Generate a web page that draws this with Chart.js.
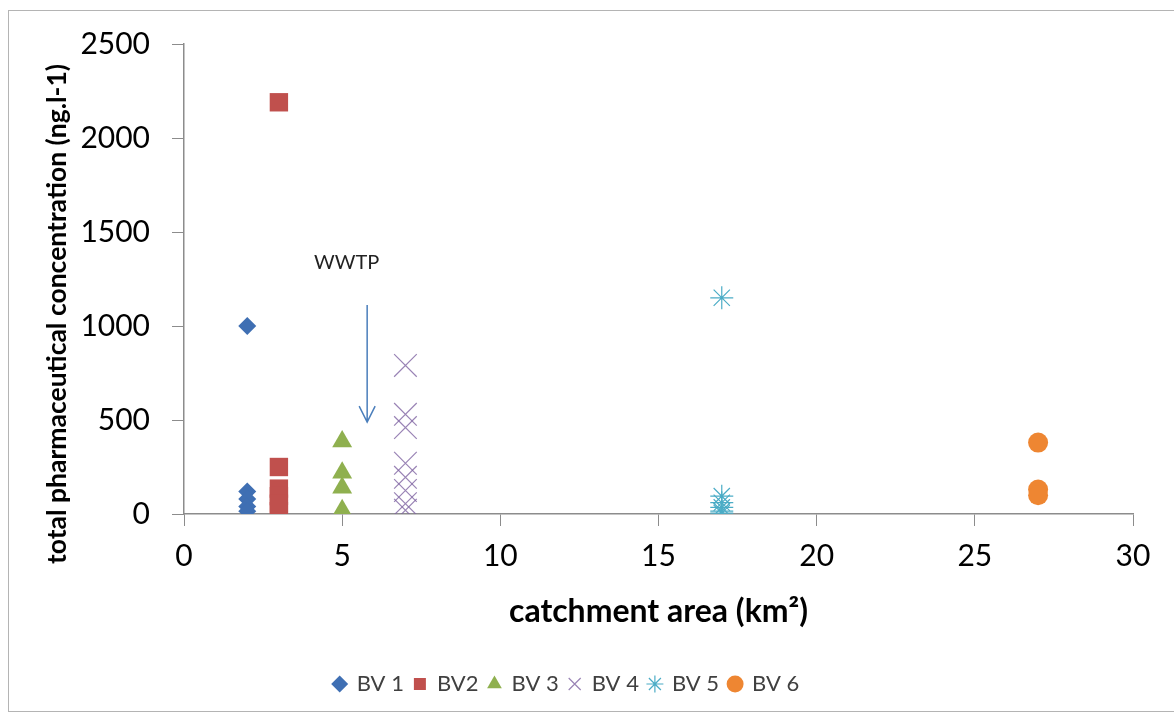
<!DOCTYPE html>
<html>
<head>
<meta charset="utf-8">
<script src="https://cdn.jsdelivr.net/npm/chart.js@4/dist/chart.umd.min.js"></script>
<style>
  html, body { margin: 0; padding: 0; background: #fff; }
  #wrap { position: relative; width: 1174px; height: 715px; }
  #frame { position: absolute; left: 8px; top: 10px; width: 1170px; height: 702px; border: 1px solid #b4b4b4; box-sizing: border-box; pointer-events: none; }
  canvas { position: absolute; left: 0; top: 0; }
</style>
</head>
<body>
<div id="wrap">
  <canvas id="chart" width="1174" height="715"></canvas>
  <div id="frame"></div>
</div>
<script>
// catchment area (km²) of each sub-basin
const seriesNames = ['BV 1', 'BV2', 'BV 3', 'BV 4', 'BV 5', 'BV 6'];
const catchmentAreas = [2, 3, 5, 7, 17, 27];
// total pharmaceutical concentration (ng.l-1)
const bv1Values = [1000, 120, 80, 40, 15];
const bv2Values = [2190, 250, 135, 95, 55, 15];
const bv3Values = [385, 220, 140, 20];
const bv4Values = [790, 530, 460, 270, 195, 125, 55, 20];
const bv5Values = [1150, 95, 60, 35, 15, 5];
const bv6Values = [380, 130, 100];
const xTicks = [0, 5, 10, 15, 20, 25, 30];
const yTicks = [0, 500, 1000, 1500, 2000, 2500];

const allValues = [bv1Values, bv2Values, bv3Values, bv4Values, bv5Values, bv6Values];
const markerStyles = ['rectRot', 'rect', 'triangle', 'crossRot', 'star', 'circle'];
const markerSizes = [9, 13, 11.5, 16, 11.5, 10];
const colors = ['#3f6fb3', '#c0504d', '#8fb04f', 'rgba(128,100,162,0.8)', '#4bacc6', '#ee8632'];

const datasets = seriesNames.map((name, i) => ({
  label: name,
  data: allValues[i].map((v) => ({ x: catchmentAreas[i], y: v })),
  pointStyle: markerStyles[i],
  pointRadius: markerSizes[i],
  pointHoverRadius: markerSizes[i],
  backgroundColor: colors[i],
  borderColor: colors[i],
  borderWidth: (i === 3 || i === 4) ? 1.2 : 0,
  showLine: false,
}));

// WWTP note and arrow, in data units
const wwtpLabel = { text: 'WWTP', x: 5.14, y: 1335 };
const wwtpArrow = { x: 5.79, yFrom: 1112, yTo: 489 };

const extras = {
  id: 'extras',
  afterDraw(chart) {
    const { ctx, scales: { x, y } } = chart;
    ctx.save();
    // y-axis title
    ctx.translate(57, 314);
    ctx.rotate(-Math.PI / 2);
    ctx.font = 'bold 26.5px Lato';
    ctx.fillStyle = '#000';
    ctx.textAlign = 'center';
    ctx.textBaseline = 'middle';
    ctx.fillText('total pharmaceutical concentration (ng.l-1)', 0, 0);
    ctx.restore();

    ctx.save();
    ctx.font = '20px Lato';
    ctx.fillStyle = '#222';
    ctx.textAlign = 'center';
    ctx.textBaseline = 'middle';
    ctx.fillText(wwtpLabel.text, x.getPixelForValue(wwtpLabel.x), y.getPixelForValue(wwtpLabel.y));
    const ax = x.getPixelForValue(wwtpArrow.x);
    const y0 = y.getPixelForValue(wwtpArrow.yFrom);
    const y1 = y.getPixelForValue(wwtpArrow.yTo);
    ctx.strokeStyle = '#4a7ebb';
    ctx.lineWidth = 1.5;
    ctx.beginPath();
    ctx.moveTo(ax, y0);
    ctx.lineTo(ax, y1);
    ctx.moveTo(ax - 8, y1 - 16);
    ctx.lineTo(ax, y1);
    ctx.lineTo(ax + 8, y1 - 16);
    ctx.stroke();
    ctx.restore();
  },
};

new Chart(document.getElementById('chart').getContext('2d'), {
  type: 'scatter',
  data: { datasets },
  options: {
    responsive: false,
    animation: false,
    devicePixelRatio: 1,
    layout: { padding: { top: 44, right: 41, bottom: 10, left: 0 } },
    scales: {
      x: {
        type: 'linear',
        min: 0,
        max: 30,
        afterBuildTicks: (s) => { s.ticks = xTicks.map((v) => ({ value: v })); },
        afterFit: (s) => { s.height = 149; },
        ticks: { font: { family: 'Lato', size: 30 }, color: '#000', padding: 12, callback: (v) => String(v) },
        grid: { drawOnChartArea: false, drawTicks: true, tickLength: 12, color: '#8c8c8c' },
        border: { color: '#8c8c8c', width: 1.5 },
        title: { display: true, text: 'catchment area (km²)', font: { family: 'Lato', size: 32, weight: 'bold' }, color: '#000', padding: { top: 0, bottom: 32 } },
      },
      y: {
        type: 'linear',
        min: 0,
        max: 2500,
        afterBuildTicks: (s) => { s.ticks = yTicks.map((v) => ({ value: v })); },
        afterFit: (s) => { s.width = 184; },
        ticks: { font: { family: 'Lato', size: 30 }, color: '#000', padding: 22, callback: (v) => String(v) },
        grid: { drawOnChartArea: false, drawTicks: true, tickLength: 12, color: '#8c8c8c' },
        border: { color: '#8c8c8c', width: 1.5 },
      },
    },
    plugins: {
      legend: {
        position: 'bottom',
        labels: { usePointStyle: true, boxWidth: 12, boxHeight: 12, font: { family: 'Lato', size: 22 }, color: '#404040', padding: 10 },
      },
      tooltip: { enabled: false },
    },
  },
  plugins: [extras],
});
</script>
</body>
</html>
